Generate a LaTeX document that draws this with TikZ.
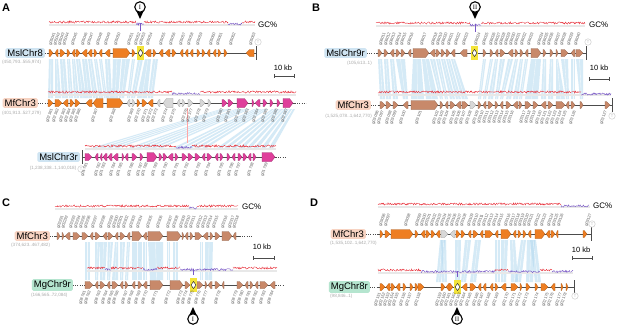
\documentclass[tikz,border=0pt]{standalone}
\usepackage{fontspec}
\setmainfont{Liberation Sans}
\newfontfamily\romanf{Liberation Serif}
\definecolor{gOr}{HTML}{EE7E22}
\definecolor{gTan}{HTML}{C8896A}
\definecolor{gMag}{HTML}{DF3F9B}
\definecolor{gGry}{HTML}{D8D8D8}
\definecolor{lnk}{HTML}{B4D9F0}
\definecolor{bxBlue}{HTML}{CFE4F2}
\definecolor{bxSal}{HTML}{F7D3C2}
\definecolor{bxGrn}{HTML}{B5E5CF}
\definecolor{gcRed}{HTML}{E8323C}
\definecolor{gcPur}{HTML}{7857C6}
\definecolor{hlY}{HTML}{F3E43A}
\tikzset{
 trk/.style={draw=gray!60!black, line width=.6pt},
 dotl/.style={draw=gray!60!black, line width=.7pt, dash pattern=on .7pt off 1.5pt},
 endbar/.style={draw=gray!60!black, line width=1pt},
 lnkf/.style={fill=lnk, fill opacity=.55},
 lnkw/.style={draw=white, line width=.35pt, opacity=.8},
 gene/.style={fill=#1, draw=#1!70!black, line width=.25pt},
 lblU/.style={font=\fontsize{4}{4.5}\selectfont, text=gray!70!black, rotate=70, anchor=west, inner sep=.2pt},
 lblD/.style={font=\fontsize{4}{4.5}\selectfont, text=gray!70!black, rotate=70, anchor=east, inner sep=.2pt},
 tbox/.style={font=\fontsize{9.5}{10}\selectfont, rounded corners=1.5pt, inner xsep=2pt, inner ysep=1.4pt, anchor=east},
 rng/.style={font=\fontsize{4.6}{5}\selectfont, text=gray!65, inner sep=0pt},
 gct/.style={font=\fontsize{8}{9}\selectfont, anchor=west, inner sep=0pt},
 kb/.style={font=\fontsize{7.5}{8}\selectfont, inner sep=0pt},
 plet/.style={font=\bfseries\fontsize{11}{12}\selectfont, inner sep=0pt},
 tcirc/.style={circle, draw=gray!45, fill=white, line width=.4pt, inner sep=0pt, minimum size=6.5pt, font=\fontsize{4}{4}\selectfont, text=gray!50},
 gcb/.style={draw=gray!18, line width=1.3pt},
 sbar/.style={draw=gray!60!black, line width=.5pt},
}
\newcommand\gn[5]{%
 \pgfmathsetmacro\gl{#2-#1}%
 \pgfmathsetmacro\ga{min(3.5,0.7*\gl)}%
 \pgfmathsetmacro\gh{\gl>9 ? 4.5 : 3.5}%
 \ifnum#3=1 \filldraw[gene=#4] (#1,#5-\gh) -- (#2-\ga,#5-\gh) -- (#2,#5) -- (#2-\ga,#5+\gh) -- (#1,#5+\gh) -- cycle;%
 \else \filldraw[gene=#4] (#2,#5-\gh) -- (#1+\ga,#5-\gh) -- (#1,#5) -- (#1+\ga,#5+\gh) -- (#2,#5+\gh) -- cycle;\fi}
\newcommand\gcs[4]{\pgfmathtruncatemacro\ns{(#2-#1)*1.6+2}%
 \draw[#4, line width=.4pt] plot[domain=#1:#2, samples=\ns] (\x,{#3+1.1*rand});}
\newcommand\lblsU[4]{\foreach \x [count=\i] in {#1} {\pgfmathtruncatemacro\n{#3+\i}\node[lblU] (#4\i) at (\x,#2) {g0\n};}}
\newcommand\lblsD[4]{\foreach \x [count=\i] in {#1} {\pgfmathtruncatemacro\n{#3+\i}\node[lblD] (#4\i) at (\x,#2) {g0\n};}}
\newcommand\hlg[3]{\fill[hlY] (#1-1,#3-7) rectangle (#2+1,#3+7);
 \filldraw[fill=white, draw=black, line width=.35pt] (#1,#3) -- ({(#1+#2)/2},#3-3.5) -- (#2,#3) -- ({(#1+#2)/2},#3+3.5) -- cycle;}
\newcommand\mkdown[4]{\fill[black] (#1-4.3,#2+2.5) -- (#1+4.3,#2+2.5) -- (#1,#2+12) -- cycle;
 \node[circle, fill=white, draw=black, line width=1.1pt, minimum size=10.5pt, inner sep=0pt, font=\romanf\fontsize{6.5}{7}\selectfont] (#4) at (#1,#2) {#3};}
\newcommand\mkup[4]{\fill[black] (#1-4.3,#2-2.5) -- (#1+4.3,#2-2.5) -- (#1,#2-12) -- cycle;
 \node[circle, fill=white, draw=black, line width=1.1pt, minimum size=10.5pt, inner sep=0pt, font=\romanf\fontsize{6.5}{7}\selectfont] (#4) at (#1,#2) {#3};}
\newcommand\scb[3]{\draw[sbar] (#1,#3) -- (#2,#3); \draw[sbar] (#1,#3-2) -- (#1,#3+2); \draw[sbar] (#2,#3-2) -- (#2,#3+2);}
\newcommand\lk[6]{\fill[lnkf] (#1,#5) -- (#2,#5) -- (#4,#6) -- (#3,#6) -- cycle;
 \draw[lnkw] ({(#1+#2)/2},#5) -- ({(#3+#4)/2},#6);}
\begin{document}
\begin{tikzpicture}[x=1pt,y=-1pt]
\useasboundingbox[fill=white] (0,0) rectangle (617,327);
\pgfmathsetseed{7}
% ================= PANEL A =================
\node[plet] (pA) at (6,8) {A};
\foreach \a/\b/\c/\d in {49/53/48/53, 55/58/55/61, 60/65/62/68, 67/70/69/73, 72/75/74/79, 76/80/80/86, 82/87/86/92, 88/92/93/98, 94/97/99/103, 99/102/104/107, 105/110/107/112, 113/121/112/118, 122/130/119/124, 132/135/127/130, 138/143/131/135, 145/151/137/147, 153/158/148/153}
  {\lk{\a}{\b}{\c}{\d}{59}{98}}
\foreach \i in {0,1,2,3,5,6,7,8,9,11,12,13,14,15,17,18,19,20,21,22,23,24}
  {\fill[lnkf] ({221+3*\i},109) -- ({223+3*\i},109) -- ({89.5+7.6*\i},150) -- ({85+7.6*\i},150) -- cycle;}
\draw[red!35, line width=.3pt] (187,108) -- (187,143);
\draw[gcb] (49,25) -- (255,25);
\gcs{49}{136}{22}{gcRed}\gcs{136}{144}{24}{gcPur}\draw[gcPur, line width=.5pt] (140,23) -- (140,31);
\gcs{144}{228}{22}{gcRed}\gcs{228}{242}{24}{gcPur}\gcs{242}{255}{22}{gcRed}
\node[gct] (gcA) at (258,25) {GC\%};
\mkdown{140}{7}{I}{mkA}
\node[tbox, fill=bxBlue] (tA1) at (45,53) {MslChr8};
\draw[dotl] (tA1.east) -- (48,53);
\draw[trk] (48,53) -- (256,53);
\draw[endbar] (256,46) -- (256,60);
\node[tcirc] (cA1) at (258,42) {T};
\foreach \a/\b/\d in {49/53/1, 55/58/0, 60/65/1, 67/70/1, 72/75/0, 76/80/1, 82/87/0, 88/92/0, 94/97/1, 99/102/0, 105/110/0, 113/130/1, 132/135/1, 145/151/0, 153/156/1, 159/163/0, 165/170/0, 172/176/1, 180/183/0, 185/188/0, 190/193/0, 197/200/1, 202/205/1, 207/210/0, 213/216/0, 218/221/1, 224/227/1, 246/254/0}
  {\gn{\a}{\b}{\d}{gOr}{53}}
\hlg{138}{143}{53}
\lblsU{50,54.5,59,63.5,72,82,88,97,105,115,128,135,140,147,160,170,180,188,197,210,217,230,250}{46}{5040}{lA}
\node[rng, anchor=west] (rA1) at (2,62.5) {(450,793..555,974)};
\node[kb] (kbA) at (283,68) {10 kb};
\scb{274}{294}{76}
\draw[gcb] (48,95) -- (296,95);
\gcs{48}{172}{92}{gcRed}\gcs{172}{200}{93.5}{gcPur}\gcs{200}{296}{92}{gcRed}
\node[tbox, fill=bxSal] (tA2) at (38,103) {MfChr3};
\draw[dotl] (tA2.east) -- (48,103);
\draw[trk] (48,103) -- (295,103);
\draw[dotl] (295,103) -- (306,103);
\foreach \a/\b/\d/\c in {48/53/1/gOr, 55/62/1/gOr, 63/68/0/gOr, 70/74/1/gOr, 75/80/1/gOr, 86/92/0/gOr, 93/103/0/gOr, 107/123/1/gOr, 127/130/0/gGry, 132/135/1/gGry, 137/140/1/gOr, 142/147/1/gOr, 148/153/0/gOr, 157/160/0/gGry, 163/173/0/gGry, 177/180/0/gGry, 182/185/1/gGry, 188/193/1/gGry, 200/205/1/gGry, 208/211/1/gGry, 222/227/1/gMag, 228/233/1/gMag, 237/248/1/gMag, 252/254/1/gMag, 255/260/0/gMag, 263/267/1/gMag, 270/273/1/gMag, 277/280/1/gMag, 283/293/1/gMag}
  {\gn{\a}{\b}{\d}{\c}{103}}
\lblsD{52,58,65,70,75,80,97,115,133,140,147,152,157,167,175,187,192,200,208,222,230,240,248,258,267,277,287}{109}{2360}{lB}
\node[rng, anchor=west] (rA2) at (2,113) {(401,913..527,279)};
\draw[gcb] (85,149) -- (276,149);
\gcs{85}{176}{146}{gcRed}\gcs{176}{192}{147.5}{gcPur}\gcs{192}{276}{146}{gcRed}
\node[tbox, fill=bxBlue] (tA3) at (80,157) {MslChr3r};
\draw[trk] (82,157) -- (276,157);
\draw[dotl] (276,157) -- (286,157);
\draw[endbar] (82,150) -- (82,164);
\node[tcirc] (cA3) at (81,169) {T};
\foreach \a/\b/\d in {85/92/1, 95/98/0, 100/102/0, 103/107/0, 108/112/0, 113/118/0, 122/124/1, 125/128/0, 132/137/1, 140/143/1, 147/157/1, 159/162/1, 163/167/1, 168/173/0, 175/178/1, 182/187/1, 188/193/1, 195/200/1, 202/205/0, 207/212/1, 215/218/0, 220/223/1, 227/230/1, 232/235/0, 238/242/1, 243/247/1, 248/251/0, 253/256/1, 262/275/1}
  {\gn{\a}{\b}{\d}{gMag}{157}}
\lblsD{87,100,105,115,122,133,142,147,157,167,178,188,200,210,223,233,240,253,267}{163}{1780}{lC}
\node[rng, anchor=east] (rA3) at (76.5,168.5) {(1,238,338..1,140,018)};
% ================= PANEL B =================
\node[plet] (pB) at (316,8) {B};
\foreach \a/\b/\c/\d in {378/382/380/385, 384/388/386/391, 390/394/393/398, 396/405/403/408, 413/421/411/424, 422/429/426/438, 430/435/440/443, 436/440/445/448, 441/445/450/455, 446/450/456/461, 451/455/462/468, 483/486/478/481, 490/493/483/486, 495/498/488/493, 500/505/495/498, 508/513/500/503, 515/518/506/511, 520/523/513/518, 525/528/519/522, 531/541/525/538, 543/546/541/546, 550/553/548/553, 556/558/556/565, 561/568/566/569, 571/575/571/575, 576/583/580/583}
  {\lk{\a}{\b}{\c}{\d}{59}{99}}
\draw[gcb] (376,26) -- (585,26);
\gcs{376}{470}{23}{gcRed}\gcs{470}{481}{25}{gcPur}\draw[gcPur, line width=.5pt] (475,24) -- (475,32);
\gcs{481}{585}{23}{gcRed}
\node[gct] (gcB) at (589,25) {GC\%};
\mkdown{475}{7}{II}{mkB}
\node[tbox, fill=bxBlue] (tB1) at (367,53) {MslChr9r};
\draw[dotl] (tB1.east) -- (377,53);
\draw[trk] (377,53) -- (586,53);
\draw[endbar] (586,46) -- (586,60);
\node[tcirc] (cB1) at (588,42) {T};
\foreach \a/\b/\d in {378/382/1, 384/388/1, 390/394/0, 396/400/1, 401/405/1, 408/411/0, 413/429/1, 430/435/0, 436/440/1, 441/445/1, 446/450/1, 451/455/0, 460/467/0, 483/486/1, 490/493/1, 495/498/0, 500/505/1, 508/513/0, 515/518/1, 520/523/1, 525/528/0, 531/541/1, 543/546/1, 550/553/1, 556/558/1, 561/568/1, 571/575/0, 576/583/1}
  {\gn{\a}{\b}{\d}{gTan}{53}}
\hlg{472}{477}{53}
\lblsU{380,385,390,396,401,408,421,432,437,442,448,455,463,475,483,490,495,500,505,510,515,521,528,538,543,548,555,561,568,575}{46}{6010}{lD}
\node[rng, anchor=east] (rB1) at (372,63) {(105,613..1)};
\node[kb] (kbB) at (599,68) {10 kb};
\scb{589}{609}{79}
\draw[gcb] (378,95) -- (611,95);
\gcs{378}{581}{92}{gcRed}\gcs{581}{611}{94}{gcPur}
\node[tbox, fill=bxSal] (tB2) at (371,105) {MfChr3};
\draw[dotl] (tB2.east) -- (378,105);
\draw[trk] (378,105) -- (612,105);
\draw[endbar] (612,98) -- (612,112);
\node[tcirc] (cB2) at (612,116) {T};
\foreach \a/\b/\d/\c in {380/385/1/gTan, 386/391/1/gTan, 393/398/1/gTan, 403/408/0/gTan, 411/438/1/gTan, 440/443/1/gTan, 445/448/0/gTan, 450/455/1/gTan, 456/461/0/gTan, 462/468/1/gTan, 470/476/1/gGry, 478/481/1/gTan, 483/486/0/gTan, 488/493/1/gTan, 495/498/1/gTan, 500/503/0/gTan, 506/511/1/gTan, 513/518/0/gTan, 519/522/1/gTan, 525/531/1/gTan, 533/538/1/gTan, 541/546/0/gTan, 548/553/1/gTan, 556/565/1/gTan, 566/569/0/gTan, 571/575/1/gTan, 580/583/1/gTan, 605/610/1/gTan}
  {\gn{\a}{\b}{\d}{\c}{105}}
\lblsD{378,383,391,396,405,421,438,443,448,455,460,465,471,478,483,488,493,498,503,508,513,525,530,535,541,546,551,556,561,566,575,606}{111}{3095}{lE}
\node[rng, anchor=east] (rB2) at (372,116) {(1,525,078..1,642,770)};
% ================= PANEL C =================
\node[plet] (pC) at (6,203) {C};
\foreach \a/\b/\c/\d in {85/90/85/90, 95/100/95/98, 100/107/100/105, 108/113/107/110, 115/118/112/118, 120/125/120/123, 127/130/125/128, 132/142/132/142, 143/147/143/147, 148/163/150/163, 167/170/167/170, 173/178/173/178, 200/203/200/203, 205/213/205/212}
  {\lk{\a}{\b}{\c}{\d}{242}{280}}
\draw[gcb] (55,209) -- (238,209);
\gcs{55}{189}{206}{gcRed}\gcs{189}{197}{208}{gcPur}\gcs{197}{238}{206}{gcRed}
\node[gct] (gcC) at (242,207) {GC\%};
\node[tbox, fill=bxSal] (tC1) at (50,236) {MfChr3};
\draw[dotl] (tC1.east) -- (55,236);
\draw[trk] (55,236) -- (240,236);
\draw[dotl] (240,236) -- (253,236);
\foreach \a/\b/\d in {57/60/1, 62/64/1, 65/70/0, 73/80/1, 82/88/1, 90/93/0, 95/100/1, 103/107/0, 108/113/1, 115/118/0, 120/125/1, 127/130/0, 132/142/1, 143/147/0, 148/163/1, 167/181/1, 182/184/1, 185/188/0, 190/193/1, 195/202/1, 203/208/0, 210/213/1, 215/220/1, 222/232/1, 233/236/0}
  {\gn{\a}{\b}{\d}{gTan}{236}}
\lblsU{58,62.5,70,75,80,85,92,100,108,113,117.5,123,130,137,147,157,167,173,180,185,190,197,202,207,213,222,229,233.5}{229}{2290}{lF}
\node[rng, anchor=west] (rC1) at (11,245) {(374,623..467,482)};
\node[kb] (kbC) at (262,247) {10 kb};
\scb{253}{274}{258}
\draw[gcb] (87,271) -- (277,271);
\gcs{87}{105}{268}{gcRed}\gcs{105}{111}{269.5}{gcPur}\gcs{111}{143}{268}{gcRed}\gcs{143}{157}{269.5}{gcPur}\gcs{157}{180}{268}{gcRed}\gcs{180}{233}{269.5}{gcPur}\gcs{233}{277}{268}{gcRed}
\draw[gcPur, line width=.5pt] (193,269) -- (193,275);
\node[tbox, fill=bxGrn] (tC2) at (73,285) {MgChr9r};
\draw[dotl] (tC2.east) -- (84,285);
\draw[trk] (84,285) -- (276,285);
\draw[dotl] (276,285) -- (284,285);
\foreach \a/\b/\d in {85/93/1, 95/98/0, 100/105/1, 107/110/0, 112/118/1, 120/123/0, 125/128/1, 132/135/0, 138/142/1, 143/147/0, 150/163/1, 170/183/1, 185/190/1, 197/203/1, 205/207/1, 208/212/0, 215/220/1, 222/224/0, 237/243/1, 245/248/0, 250/253/1, 255/258/0, 260/268/1, 270/275/0}
  {\gn{\a}{\b}{\d}{gTan}{285}}
\hlg{191}{196}{285}
\lblsD{85,90,100,107,113,118,127,133,140,147,157,170,182,187,193,200,207,220,237,243,250,257,265,273}{291}{8760}{lG}
\node[rng, anchor=west] (rC2) at (31,295) {(166,565..72,084)};
\mkup{193}{319}{I}{mkC}
% ================= PANEL D =================
\node[plet] (pD) at (314,203) {D};
\foreach \a/\b/\c/\d in {440/445/436/441, 441/446/442/447, 455/461/455/460, 465/471/461/466, 475/481/470/476, 495/500/495/500, 501/508/501/506, 510/515/511/518, 521/526/515/521, 527/535/526/533, 530/536/535/541}
  {\lk{\a}{\b}{\c}{\d}{240}{282}}
\draw[gcb] (378,207) -- (590,207);
\gcs{378}{561}{204}{gcRed}\gcs{561}{589}{206}{gcPur}
\node[gct] (gcD) at (593,206) {GC\%};
\node[tbox, fill=bxSal] (tD1) at (366,234) {MfChr3};
\draw[dotl] (tD1.east) -- (377,234);
\draw[trk] (377,234) -- (591,234);
\draw[endbar] (591,227) -- (591,241);
\node[tcirc] (cD1) at (592,224) {T};
\foreach \a/\b/\d/\c in {380/383/1/gOr, 385/390/1/gOr, 391/413/1/gOr, 415/418/1/gOr, 421/425/0/gOr, 426/430/1/gOr, 431/435/1/gOr, 436/440/0/gOr, 441/448/1/gGry, 450/455/0/gGry, 456/460/1/gOr, 461/465/1/gOr, 468/471/0/gOr, 473/478/1/gOr, 480/483/0/gOr, 485/493/1/gOr, 495/498/0/gOr, 501/511/1/gOr, 513/516/0/gOr, 518/521/1/gOr, 523/526/1/gOr, 528/531/0/gOr, 535/545/1/gOr, 546/550/0/gOr, 551/555/1/gOr, 556/558/0/gOr, 583/587/1/gOr}
  {\gn{\a}{\b}{\d}{\c}{234}}
\lblsU{380,385,405,416,421,425.5,431,436,441,446,451,456,461,468,473,478,483,488,493,498,505,510,514.5,519,523.5,528,535,541,548,553,558,586}{227}{3095}{lH}
\node[rng, anchor=west] (rD1) at (330,243.5) {(1,535,102..1,642,770)};
\node[kb] (kbD) at (581,250) {10 kb};
\scb{572}{592}{258}
\draw[gcb] (378,273) -- (573,273);
\gcs{378}{421}{270}{gcRed}\gcs{421}{495}{271.5}{gcPur}\gcs{495}{508}{270}{gcRed}\gcs{508}{540}{271.5}{gcPur}\gcs{540}{552}{270}{gcRed}\gcs{552}{573}{271.5}{gcPur}
\draw[gcPur, line width=.5pt] (457,271) -- (457,277);
\node[tbox, fill=bxGrn] (tD2) at (370,287) {MgChr8r};
\draw[dotl] (tD2.east) -- (378,287);
\draw[trk] (378,287) -- (574,287);
\draw[endbar] (574,280) -- (574,294);
\node[tcirc] (cD2) at (575,296) {T};
\foreach \a/\b/\d in {380/385/1, 386/390/0, 391/395/1, 396/400/0, 403/406/1, 410/413/1, 415/418/1, 418/424/1, 441/445/1, 446/450/0, 449/453/1, 462/467/0, 470/476/1, 478/481/0, 483/486/0, 490/493/0, 495/498/1, 501/506/0, 511/518/1, 520/522/1, 526/530/1, 535/538/1, 541/548/1, 551/555/0, 561/563/1, 566/568/1}
  {\gn{\a}{\b}{\d}{gOr}{287}}
\hlg{455}{460}{287}
\lblsD{380,384.5,389,393.5,398,405,411,420,441,445.5,450,455,460,465,471,478,483,490,498,508,515,521,528,538,548,553,561,566}{293}{2150}{lI}
\node[rng, anchor=west] (rD2) at (330,296) {(98,846..1)};
\mkup{457}{319}{II}{mkD}
\end{tikzpicture}
\end{document}
